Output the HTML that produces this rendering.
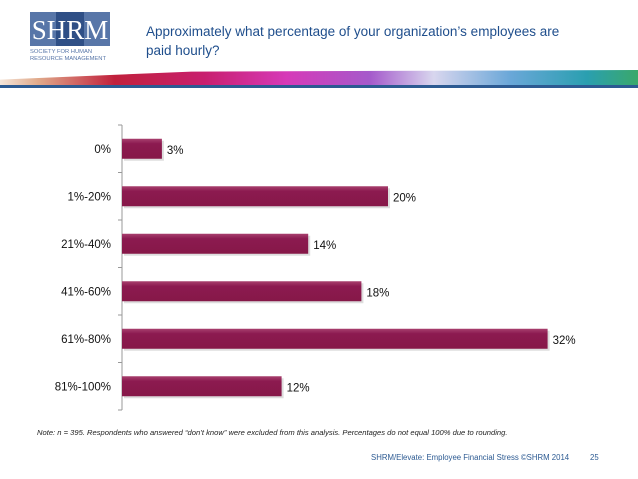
<!DOCTYPE html>
<html><head><meta charset="utf-8"><style>
body{margin:0;width:638px;height:479px;background:#fff;font-family:"Liberation Sans",sans-serif;position:relative;overflow:hidden}
.abs{position:absolute}
</style></head><body>
<div class="abs" style="left:30px;top:12px;width:80px;height:34px;background:#5876a8;overflow:hidden">
  <div class="abs" style="left:26px;top:0;width:28px;height:34px;background:#2f4f86"></div>
  <div class="abs" style="left:0;top:1px;width:80px;text-align:center;font-family:'Liberation Serif',serif;font-size:27px;color:#fff;line-height:34px">SHRM</div>
</div>
<div class="abs" style="left:30px;top:49px;font-size:5.8px;color:#5876a8;line-height:7px">SOCIETY FOR HUMAN<br>RESOURCE MANAGEMENT</div>
<div class="abs" style="left:146px;top:22px;font-size:13.5px;color:#1f4e8c;line-height:19px">Approximately what percentage of your organization’s employees are<br>paid hourly?</div>
<div class="abs" style="left:0;top:70px;width:638px;height:16px;background:linear-gradient(90deg,#f5e6da 0%,#e0a98a 6%,#c0203c 18%,#c81f6e 32%,#d63ab8 45%,#a55acb 58%,#d8d6ee 68%,#6aa7d8 80%,#2a9fb0 92%,#3aa86a 100%);clip-path:polygon(0 60%,30% 10%,100% 0,100% 100%,0 100%)"></div>
<div class="abs" style="left:0;top:85px;width:638px;height:3px;background:#2c5a92"></div>
<svg class="abs" style="left:0;top:0" width="638" height="479" id="chart"></svg>
<div class="abs" style="left:37px;top:428px;font-size:7.6px;font-style:italic;color:#222;white-space:nowrap">Note: <i>n</i> = 395. Respondents who answered “don’t know” were excluded from this analysis. Percentages do not equal 100% due to rounding.</div>
<div class="abs" style="left:371px;top:453px;font-size:7.8px;color:#2c5a92;white-space:nowrap">SHRM/Elevate: Employee Financial Stress ©SHRM 2014</div>
<div class="abs" style="left:590px;top:453px;font-size:7.8px;color:#2c5a92">25</div>
<script>
const categories=["0%","1%-20%","21%-40%","41%-60%","61%-80%","81%-100%"];
const values=[3,20,14,18,32,12];
const valueLabels=["3%","20%","14%","18%","32%","12%"];
const svg=document.getElementById('chart');
const NS='http://www.w3.org/2000/svg';
const x0=122,pxPer=13.3,top0=125,band=47.5,barH=20;
const xs=v=>x0+v*pxPer;
const yc=i=>top0+band*(i+0.5);
function mk(t,a){const e=document.createElementNS(NS,t);for(const k in a)e.setAttribute(k,a[k]);svg.appendChild(e);return e;}
const defs=mk('defs',{});
defs.innerHTML='<linearGradient id="g" x1="0" y1="0" x2="0" y2="1"><stop offset="0" stop-color="#a8406e"/><stop offset="0.25" stop-color="#8c1a50"/><stop offset="1" stop-color="#861848"/></linearGradient>';
const ax=mk('line',{x1:x0,y1:top0,x2:x0,y2:top0+band*categories.length,stroke:'#999','stroke-width':1});


for(let i=0;i<=categories.length;i++){
  const t=mk('line',{x1:x0-4,x2:x0,y1:top0+band*i,y2:top0+band*i,stroke:'#999'});
  
  
}
categories.forEach((c,i)=>{
  const y=yc(i);
  const s=mk('rect',{x:x0+2,y:y-barH/2+2,width:xs(values[i])-x0,height:barH,fill:'#bbb',opacity:0.5});
  
  
  const r=mk('rect',{x:x0,y:y-barH/2,width:xs(values[i])-x0,height:barH,fill:'url(#g)'});
  
  
  const l=mk('text',{x:x0-11,y:y+4,'text-anchor':'end','font-size':11.5,fill:'#111','font-family':'Liberation Sans'});
  l.textContent=c;
  
  
  const v=mk('text',{x:xs(values[i])+5,y:y+5,'font-size':11.5,fill:'#111','font-family':'Liberation Sans'});
  v.textContent=valueLabels[i];
  
  
});
</script>
</body></html>
